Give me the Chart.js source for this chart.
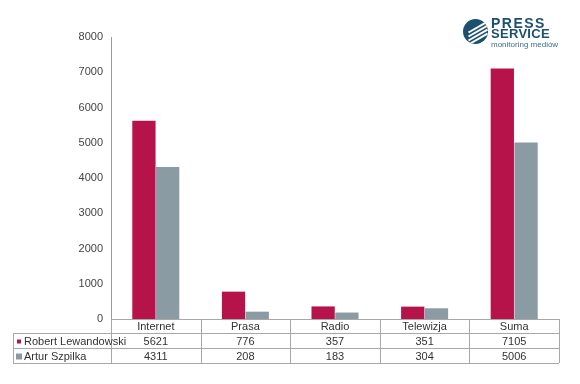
<!DOCTYPE html>
<html>
<head>
<meta charset="utf-8">
<script src="https://cdn.jsdelivr.net/npm/chart.js@4"></script>
<style>
  html, body { margin: 0; padding: 0; background: #fff; }
  #wrap { position: relative; width: 580px; height: 384px; }
  #logo { position: absolute; left: 462px; top: 17px; width: 110px; height: 32px; font-family: "Liberation Sans", Arial, sans-serif; }
  #logo .dot { position: absolute; left: 1px; top: 2px; width: 25px; height: 25px; border-radius: 50%; background: #1d4f6e; overflow: hidden; }
  #logo .dot i { position: absolute; left: 4px; width: 22px; height: 2px; background: #fff; transform: rotate(-30deg); }
  #logo .t1 { position: absolute; left: 29px; top: 0px; font-size: 14px; font-weight: bold; color: #1d4f6e; letter-spacing: 1.5px; line-height: 12px; }
  #logo .t2 { position: absolute; left: 29px; top: 11px; font-size: 13px; font-weight: bold; color: #1d4f6e; letter-spacing: 0.3px; line-height: 12px; }
  #logo .t3 { position: absolute; left: 29px; top: 24px; font-size: 8px; color: #3d6f8e; line-height: 8px; }
</style>
</head>
<body>
<div id="wrap">
  <canvas id="c" width="580" height="384"></canvas>
  <div id="logo">
    <div class="dot"><i style="top:7px"></i><i style="top:11px"></i><i style="top:15px"></i><i style="top:19px"></i></div>
    <div class="t1">PRESS</div>
    <div class="t2">SERVICE</div>
    <div class="t3">monitoring mediów</div>
  </div>
</div>
<script>
const categories = ['Internet', 'Prasa', 'Radio', 'Telewizja', 'Suma'];
const lewandowski = [5621, 776, 357, 351, 7105];
const szpilka = [4311, 208, 183, 304, 5006];
const seriesNames = ['Robert Lewandowski', 'Artur Szpilka'];
const seriesColors = ['#b5134a', '#8a9ba3'];
const yTicks = [0, 1000, 2000, 3000, 4000, 5000, 6000, 7000, 8000];

const FONT = '"Liberation Sans", Arial, sans-serif';

// data table under the x axis, drawn from the x scale
const tablePlugin = {
  id: 'dataTable',
  afterDraw(chart) {
    const ctx = chart.ctx;
    const x = chart.scales.x;
    const area = chart.chartArea;
    const top = area.bottom;
    const rows = [top, top + 14, top + 29, top + 44];
    const left = 13;
    const half = (x.getPixelForValue(1) - x.getPixelForValue(0)) / 2;
    const right = x.getPixelForValue(categories.length - 1) + half;

    ctx.save();
    ctx.strokeStyle = '#a8a8a8';
    ctx.lineWidth = 1;
    ctx.beginPath();
    // horizontal lines
    ctx.moveTo(area.left, rows[0] + 0.5); ctx.lineTo(right, rows[0] + 0.5);
    for (let r = 1; r < rows.length; r++) {
      ctx.moveTo(left, rows[r] + 0.5); ctx.lineTo(right, rows[r] + 0.5);
    }
    // vertical lines
    ctx.moveTo(left + 0.5, rows[1]); ctx.lineTo(left + 0.5, rows[3]);
    for (let i = 0; i <= categories.length; i++) {
      const px = Math.round(x.getPixelForValue(i) - half) + 0.5;
      ctx.moveTo(px, rows[0]); ctx.lineTo(px, rows[3]);
    }
    ctx.stroke();

    ctx.font = '11px ' + FONT;
    ctx.fillStyle = '#333';
    ctx.textBaseline = 'middle';
    ctx.textAlign = 'center';
    categories.forEach((c, i) => {
      const cx = x.getPixelForValue(i);
      ctx.fillText(c, cx, (rows[0] + rows[1]) / 2 + 1);
      ctx.fillText(String(lewandowski[i]), cx, (rows[1] + rows[2]) / 2 + 1);
      ctx.fillText(String(szpilka[i]), cx, (rows[2] + rows[3]) / 2 + 1);
    });
    ctx.textAlign = 'left';
    seriesNames.forEach((n, k) => {
      const cy = (rows[k + 1] + rows[k + 2]) / 2 + 1;
      ctx.fillStyle = seriesColors[k];
      if (k === 0) ctx.fillRect(left + 4, cy - 2, 4, 4);
      else ctx.fillRect(left + 3, cy - 3, 6, 6);
      ctx.fillStyle = '#333';
      ctx.fillText(n, left + 11, cy);
    });
    ctx.restore();
  }
};

new Chart(document.getElementById('c'), {
  type: 'bar',
  data: {
    labels: categories,
    datasets: [
      { label: seriesNames[0], data: lewandowski, backgroundColor: seriesColors[0], barPercentage: 0.98, categoryPercentage: 0.53 },
      { label: seriesNames[1], data: szpilka, backgroundColor: seriesColors[1], barPercentage: 0.98, categoryPercentage: 0.53 }
    ]
  },
  options: {
    responsive: false,
    animation: false,
    layout: { padding: { left: 0, top: 37, right: 21, bottom: 65 } },
    plugins: { legend: { display: false }, tooltip: { enabled: false } },
    scales: {
      x: {
        grid: { display: false, drawTicks: false },
        border: { display: false },
        ticks: { display: false },
        afterFit(s) { s.height = 0; }
      },
      y: {
        min: 0,
        max: 8000,
        afterBuildTicks(s) { s.ticks = yTicks.map(v => ({ value: v })); },
        afterFit(s) { s.width = 111; },
        grid: { display: false, drawTicks: false },
        border: { display: true, color: '#9a9a9a' },
        ticks: { color: '#444', font: { family: FONT, size: 11 }, padding: 8, callback: v => String(v) }
      }
    }
  },
  plugins: [tablePlugin]
});
</script>
</body>
</html>
